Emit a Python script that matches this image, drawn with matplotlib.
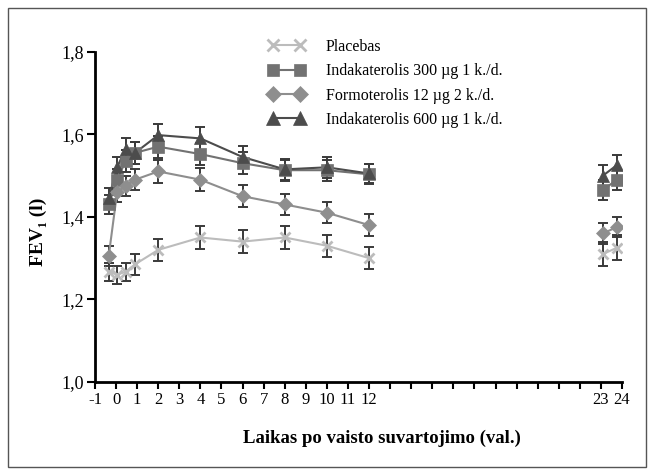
import numpy as np
import matplotlib
matplotlib.use("Agg")
from matplotlib import pyplot as plt
from matplotlib.patches import Rectangle

plt.rcParams['font.family'] = ['Liberation Serif', 'DejaVu Serif']

# hours after dose
hours = [-0.35, 0.05, 0.45, 0.9, 2, 4, 6, 8, 10, 12, 23.1, 23.75]

placebo = [1.267, 1.26, 1.267, 1.285, 1.32, 1.35, 1.34, 1.35, 1.33, 1.30, 1.31, 1.325]
placebo_err = [0.022, 0.022, 0.022, 0.025, 0.027, 0.028, 0.027, 0.028, 0.027, 0.027, 0.03, 0.03]

ind300 = [1.43, 1.49, 1.535, 1.555, 1.57, 1.552, 1.53, 1.513, 1.513, 1.503, 1.465, 1.49]
ind300_err = [0.024, 0.025, 0.026, 0.026, 0.027, 0.027, 0.027, 0.025, 0.025, 0.024, 0.025, 0.025]

formo = [1.305, 1.46, 1.475, 1.49, 1.51, 1.49, 1.45, 1.43, 1.41, 1.38, 1.36, 1.375]
formo_err = [0.025, 0.025, 0.025, 0.025, 0.027, 0.028, 0.027, 0.026, 0.026, 0.026, 0.025, 0.025]

ind600 = [1.445, 1.52, 1.565, 1.555, 1.598, 1.59, 1.545, 1.515, 1.52, 1.505, 1.50, 1.525]
ind600_err = [0.025, 0.026, 0.026, 0.026, 0.027, 0.027, 0.027, 0.026, 0.026, 0.024, 0.025, 0.025]

names = ["Placebas", "Indakaterolis 300 µg 1 k./d.",
         "Formoterolis 12 µg 2 k./d.", "Indakaterolis 600 µg 1 k./d."]

xticks = list(range(-1, 25))
xlabels = [str(t) if (t <= 12 or t >= 23) else "" for t in xticks]
yticks = [1.0, 1.2, 1.4, 1.6, 1.8]
ylabels = ["1,0", "1,2", "1,4", "1,6", "1,8"]

fig = plt.figure(figsize=(6.54, 4.75), dpi=100)
ax = fig.add_axes([95/654, 1-382/475, (622-95)/654, (382-51.7)/475])

# outer frame
fig.patches.append(Rectangle((8/654, 8/475), 638/654, 459/475, transform=fig.transFigure,
                             fill=False, edgecolor='#555555', linewidth=1))

series = [
    (placebo, placebo_err, 'x', 7, '#bcbcbc', names[0]),
    (ind300, ind300_err, 's', 8, '#727272', names[1]),
    (formo, formo_err, 'D', 7.5, '#8e8e8e', names[2]),
    (ind600, ind600_err, '^', 9, '#4c4c4c', names[3]),
]

h = np.array(hours)
for vals, err, mk, ms, col, lab in series:
    early = h < 13
    late = h > 13
    v = np.array(vals)
    e = np.array(err)
    ax.errorbar(h, v, yerr=e, fmt='none', ecolor='#3a3a3a', elinewidth=1.4,
                capsize=3.6, capthick=1.4, zorder=2)
    ax.plot(h[early], v[early], '-', color=col, linewidth=1.5, zorder=3)
    ax.plot(h[late], v[late], '-', color=col, linewidth=1.5, zorder=3)
    ax.plot(h, v, linestyle='none', marker=mk, markersize=ms, color=col,
            markeredgewidth=2 if mk == 'x' else 0.5, zorder=4)
    # legend handle
    ax.plot([], [], '-', marker=mk, markersize=ms + 1, color=col, linewidth=1.5,
            markeredgewidth=2 if mk == 'x' else 0.5, label=lab)

ax.set_xlim(-1, 24)
ax.set_ylim(1.0, 1.8)
ax.set_xticks(xticks)
ax.set_xticklabels(xlabels, fontsize=12)
ax.set_yticks(yticks)
ax.set_yticklabels(ylabels, fontsize=13)
ax.tick_params(axis='x', direction='out', length=5, width=1.5, pad=2)
ax.tick_params(axis='y', direction='out', length=6, width=1.5, pad=2)
for s in ['top', 'right']:
    ax.spines[s].set_visible(False)
for s in ['left', 'bottom']:
    ax.spines[s].set_linewidth(2)

fig.text(38/654, 1-232/475, "FEV₁ (l)", rotation=90, fontsize=14, fontweight='bold',
         ha='center', va='center')
fig.text(382/654, 1-438/475, "Laikas po vaisto suvartojimo (val.)", fontsize=13.5,
         fontweight='bold', ha='center', va='center')

fig.legend(loc='upper left', bbox_to_anchor=(268/654, 1-39/475), frameon=False,
           fontsize=11.5, numpoints=2, handlelength=2.3, handletextpad=1.3,
           labelspacing=0.52, borderpad=0, borderaxespad=0)

fig.savefig("out.png", dpi=100)
